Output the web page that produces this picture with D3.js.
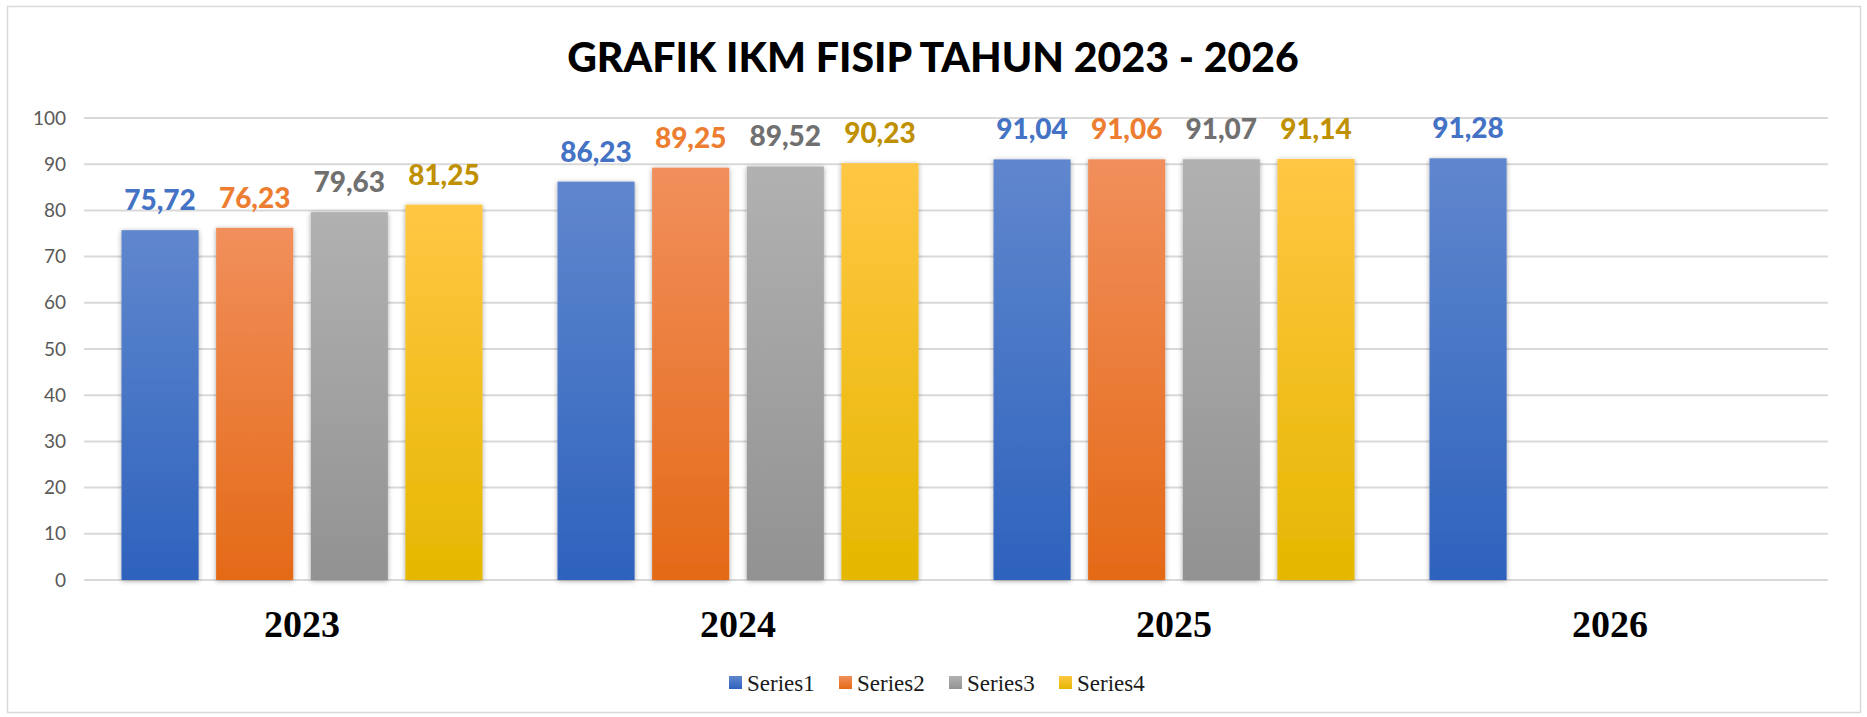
<!DOCTYPE html>
<html>
<head>
<meta charset="utf-8">
<script src="https://cdn.jsdelivr.net/npm/d3@7"></script>
<style>
  html, body { margin: 0; padding: 0; background: #fff; }
  svg { display: block; }
</style>
</head>
<body>
<div id="vizcontainer"></div>
<script>
// values
const years = ['2023', '2024', '2025', '2026'];
const seriesNames = ['Series1', 'Series2', 'Series3', 'Series4'];
const series1 = [75.72, 86.23, 91.04, 91.28];
const series2 = [76.23, 89.25, 91.06, null];
const series3 = [79.63, 89.52, 91.07, null];
const series4 = [81.25, 90.23, 91.14, null];
const yTicks = [0, 10, 20, 30, 40, 50, 60, 70, 80, 90, 100];

const
  width = 1867,
  height = 717,
  plotLeft = 84,
  plotRight = 1828,
  plotTop = 118,
  plotBottom = 580;

// gradient top/bottom, label colour
const colours = [
  { top: '#6087cd', bottom: '#2e62bd', label: '#4472c4' },
  { top: '#f18f5c', bottom: '#e46a17', label: '#ed7d31' },
  { top: '#b1b1b1', bottom: '#929292', label: '#707070' },
  { top: '#ffc744', bottom: '#e5b700', label: '#bf9000' }
];

const allSeries = [series1, series2, series3, series4];
const table = years.map((y, i) => ({
  year: y,
  values: seriesNames.map((s, j) => ({ key: s, idx: j, value: allSeries[j][i] }))
}));

const svg = d3.select('#vizcontainer')
  .append('svg')
  .attr('xmlns', 'http://www.w3.org/2000/svg')
  .attr('width', width)
  .attr('height', height);

const defs = svg.append('defs');
colours.forEach((c, i) => {
  const g = defs.append('linearGradient')
    .attr('id', 'grad' + i)
    .attr('x1', 0).attr('y1', 0).attr('x2', 0).attr('y2', 1);
  g.append('stop').attr('offset', '0%').attr('stop-color', c.top);
  g.append('stop').attr('offset', '100%').attr('stop-color', c.bottom);
});
const shadow = defs.append('filter')
  .attr('id', 'shadow')
  .attr('x', '-20%').attr('y', '-10%').attr('width', '140%').attr('height', '120%');
shadow.append('feDropShadow')
  .attr('dx', 0).attr('dy', 1)
  .attr('stdDeviation', 2.5)
  .attr('flood-color', '#000')
  .attr('flood-opacity', 0.35);

// chart frame
svg.append('rect')
  .attr('x', 7.5).attr('y', 6.5)
  .attr('width', 1853).attr('height', 706)
  .attr('fill', '#fff')
  .attr('stroke', '#d9d9d9')
  .attr('stroke-width', 1.5);

// title
svg.append('text')
  .attr('x', 933)
  .attr('y', 72)
  .attr('text-anchor', 'middle')
  .style('font-family', 'Lato, "Open Sans", sans-serif')
  .style('font-weight', '900')
  .style('font-size', '41px')
  .attr('fill', '#000')
  .text('GRAFIK IKM FISIP TAHUN 2023 - 2026');

const x0 = d3.scaleBand()
  .domain(years)
  .range([plotLeft, plotRight])
  .paddingInner(0.172)
  .paddingOuter(0.086);

const x1 = d3.scaleBand()
  .domain(seriesNames)
  .range([0, x0.bandwidth()])
  .paddingInner(0.185)
  .paddingOuter(0);

const y = d3.scaleLinear()
  .domain([0, 100])
  .range([plotBottom, plotTop]);

// gridlines
svg.append('g')
  .attr('id', 'grid')
  .selectAll('line')
  .data(yTicks)
  .join('line')
  .attr('x1', plotLeft)
  .attr('x2', plotRight)
  .attr('y1', d => y(d))
  .attr('y2', d => y(d))
  .attr('stroke', '#d9d9d9')
  .attr('stroke-width', 2);

// y axis labels
const yAxis = svg.append('g')
  .attr('transform', `translate(${plotLeft},0)`)
  .call(d3.axisLeft(y).tickValues(yTicks).tickSize(0).tickPadding(18));
yAxis.select('.domain').remove();
yAxis.selectAll('text')
  .style('font-family', 'Lato, "Open Sans", sans-serif')
  .style('font-size', '19px')
  .attr('fill', '#595959');

// bars
const groups = svg.append('g')
  .attr('id', 'bars')
  .selectAll('g')
  .data(table)
  .join('g')
  .attr('transform', d => `translate(${x0(d.year)},0)`);

groups.selectAll('rect')
  .data(d => d.values.filter(v => v.value != null))
  .join('rect')
  .attr('x', d => x1(d.key))
  .attr('width', x1.bandwidth())
  .attr('y', d => y(d.value))
  .attr('height', d => y(0) - y(d.value))
  .attr('fill', d => `url(#grad${d.idx})`)
  .attr('filter', 'url(#shadow)');

// data labels
groups.selectAll('text')
  .data(d => d.values.filter(v => v.value != null))
  .join('text')
  .attr('x', d => x1(d.key) + x1.bandwidth() / 2)
  .attr('y', d => y(d.value) - 20)
  .attr('text-anchor', 'middle')
  .style('font-family', 'Lato, "Open Sans", sans-serif')
  .style('font-weight', '900')
  .style('font-size', '28px')
  .attr('fill', d => colours[d.idx].label)
  .text(d => d3.format('.2f')(d.value).replace('.', ','));

// category labels
svg.append('g')
  .attr('id', 'xlabels')
  .selectAll('text')
  .data(years)
  .join('text')
  .attr('x', d => x0(d) + x0.bandwidth() / 2)
  .attr('y', 637)
  .attr('text-anchor', 'middle')
  .style('font-family', '"Liberation Serif", "Times New Roman", serif')
  .style('font-weight', 'bold')
  .style('font-size', '38px')
  .attr('fill', '#000')
  .text(d => d);

// legend
const legendStep = 110;
const legend = svg.append('g')
  .attr('id', 'legend')
  .attr('transform', `translate(${729},0)`);
const items = legend.selectAll('g')
  .data(seriesNames)
  .join('g')
  .attr('transform', (d, i) => `translate(${i * legendStep},0)`);
items.append('rect')
  .attr('x', 0)
  .attr('y', 676)
  .attr('width', 13)
  .attr('height', 13)
  .attr('fill', (d, i) => `url(#grad${i})`);
items.append('text')
  .attr('x', 18)
  .attr('y', 691)
  .style('font-family', '"Liberation Serif", "Times New Roman", serif')
  .style('font-size', '23px')
  .attr('fill', '#1a1a1a')
  .text(d => d);
</script>
</body>
</html>
